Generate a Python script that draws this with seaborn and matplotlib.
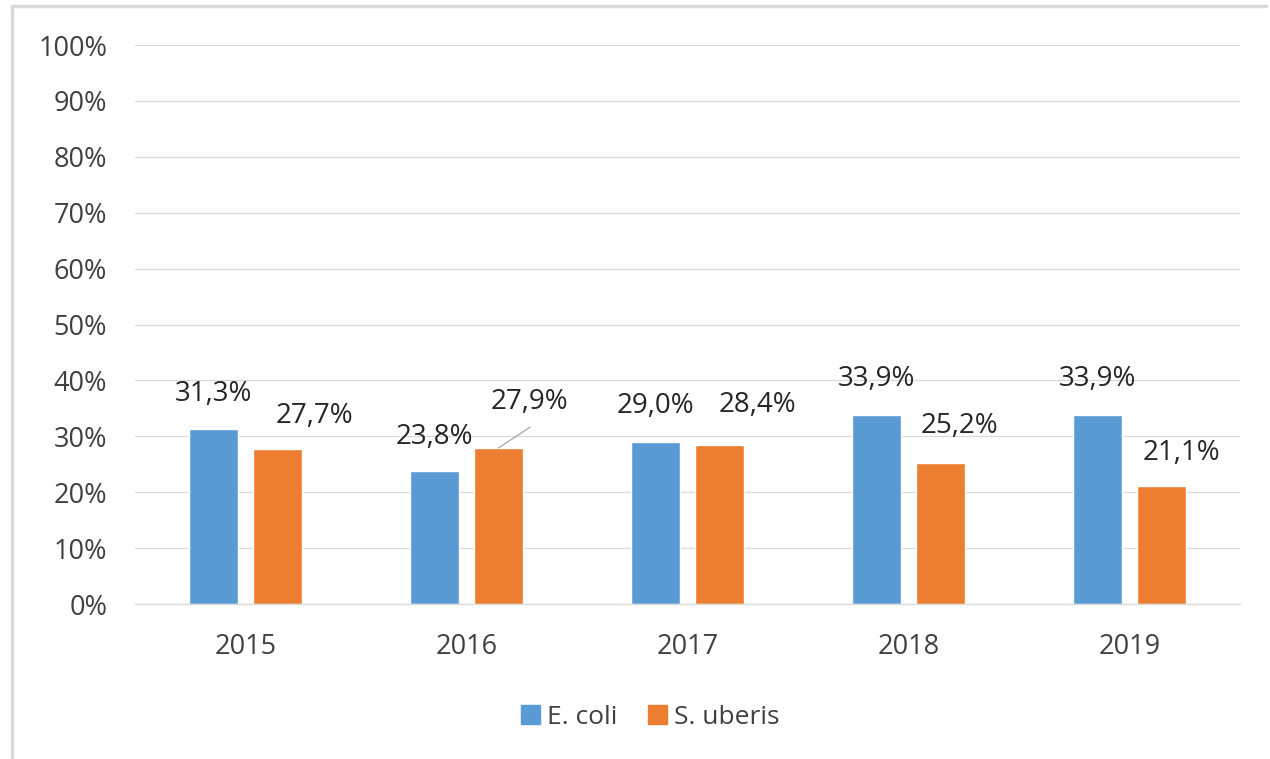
import pandas as pd
import matplotlib.pyplot as plt
import seaborn as sns
from matplotlib.lines import Line2D
from matplotlib.patches import Patch

anos = ['2015', '2016', '2017', '2018', '2019']
series = ['E. coli', 'S. uberis']
ecoli = [31.3, 23.8, 29.0, 33.9, 33.9]
suberis = [27.7, 27.9, 28.4, 25.2, 21.1]
y_ticks = [0, 10, 20, 30, 40, 50, 60, 70, 80, 90, 100]

# deslocamento dos rotulos (pixels) como no original
desloc = {
    'E. coli': [(0, 35), (0, 34), (0, 36), (0, 36), (0, 36)],
    'S. uberis': [(37, 33), (31, 46), (38, 40), (19, 37), (20, 33)],
}

dados = pd.DataFrame({
    'ano': anos * 2,
    'serie': [series[0]] * len(anos) + [series[1]] * len(anos),
    'valor': ecoli + suberis,
})

sns.set_theme(style='white')
plt.rcParams['font.family'] = ['Open Sans', 'DejaVu Sans']

cores = ['#5B9BD5', '#ED7D31']
fig = plt.figure(figsize=(12.7, 7.59), dpi=100)
ax = fig.add_axes([0.1063, 0.2042, 0.8701, 0.7365])

sns.barplot(data=dados, x='ano', y='valor', hue='serie', palette=cores,
            width=0.575, gap=0.228, saturation=1, ax=ax, legend=False)

ax.set_ylim(0, 100)
ax.set_xlim(-0.5, 4.5)
ax.set_yticks(y_ticks)
ax.set_yticklabels([f'{v}%' for v in y_ticks])
ax.yaxis.grid(True, color='#d9d9d9', lw=0.9)
ax.set_axisbelow(True)
ax.set_xlabel('')
ax.set_ylabel('')
for s in ['top', 'right', 'left']:
    ax.spines[s].set_visible(False)
ax.spines['bottom'].set_color('#d9d9d9')
ax.spines['bottom'].set_linewidth(0.9)
ax.tick_params(axis='y', length=0, pad=20, labelsize=19.5, labelcolor='#404040')
ax.tick_params(axis='x', length=0, pad=21, labelsize=19.5, labelcolor='#404040')

for cont, nome in zip(ax.containers, series):
    valores = ecoli if nome == 'E. coli' else suberis
    for barra, v, (dx, dy) in zip(cont.patches, valores, desloc[nome]):
        xc = barra.get_x() + barra.get_width() / 2
        txt = f'{v:.1f}%'.replace('.', ',')
        ax.annotate(txt, (xc, v), xytext=(dx, dy), textcoords='offset pixels',
                    ha='center', va='center', fontsize=20, color='#262626')

# linha guia do rotulo de 2016 (S. uberis)
b = ax.containers[1].patches[1]
ax.annotate('', (b.get_x() + b.get_width() / 2, suberis[1]), xytext=(32, 21),
            textcoords='offset pixels',
            arrowprops=dict(arrowstyle='-', color='#a6a6a6', lw=0.9,
                            shrinkA=0, shrinkB=0))

handles = [Patch(facecolor=c, edgecolor=c) for c in cores]
fig.legend(handles, series, loc='center', bbox_to_anchor=(0.512, 0.0553), ncol=2,
           frameon=False, fontsize=19, handlelength=0.72, handleheight=0.72,
           handletextpad=0.27, columnspacing=1.14, labelcolor='#404040')

# moldura do grafico
fig.add_artist(Line2D([0.0095, 0.997], [0.992, 0.992], transform=fig.transFigure,
                      color='#d9d9d9', lw=2.5))
fig.add_artist(Line2D([0.0095, 0.0095], [0.992, 0.0], transform=fig.transFigure,
                      color='#d9d9d9', lw=2.5))

fig.savefig('out.png', dpi=100)
